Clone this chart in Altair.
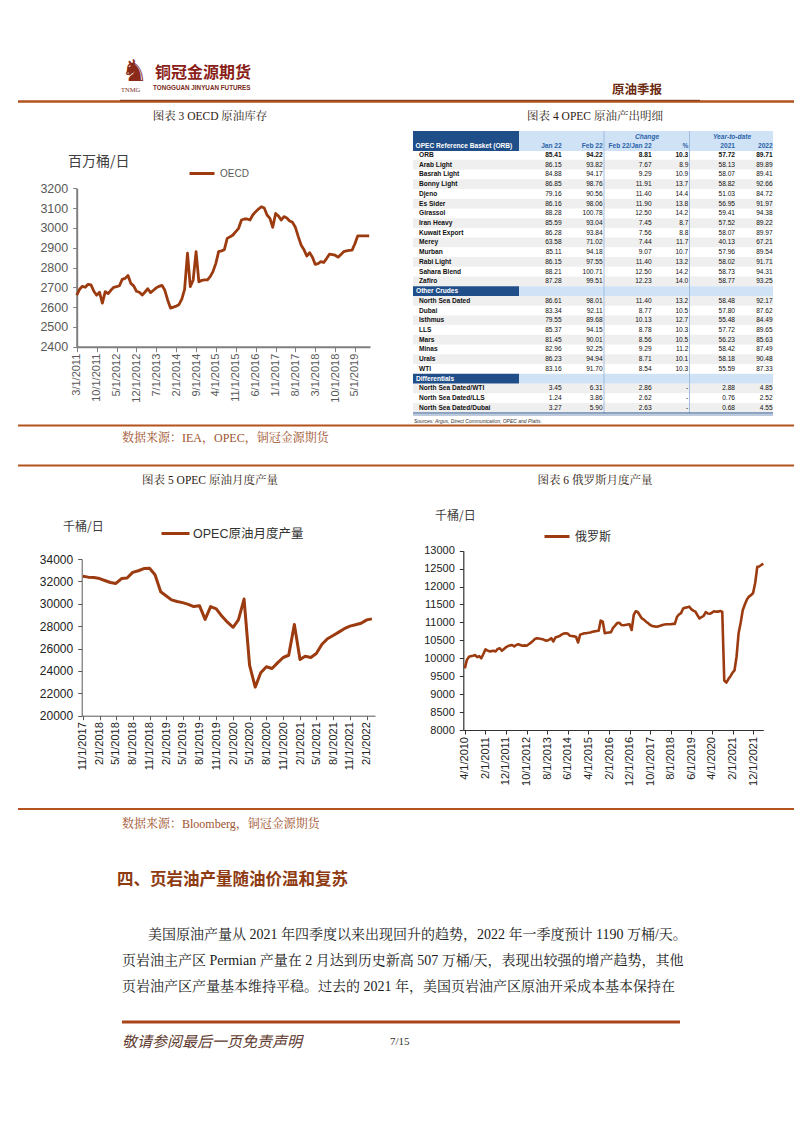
import altair as alt
import pandas as pd

# ====================== chart data ======================
oecd_start = "2011-03-01"
oecd_values = [
    2661, 2690, 2705, 2700, 2715, 2712, 2680, 2660, 2675, 2620,
    2678, 2668, 2685, 2700, 2703, 2708, 2740, 2745, 2760, 2720, 2707, 2680,
    2675, 2661, 2675, 2693, 2673, 2685, 2697, 2705, 2710, 2685, 2635, 2595,
    2600, 2605, 2612, 2640, 2690, 2872, 2703, 2737, 2880, 2728, 2735, 2738,
    2737, 2755, 2779, 2821, 2880, 2884, 2890, 2947, 2955, 2964, 2981, 2998,
    3040, 3045, 3045, 3040, 3065, 3082, 3095, 3107, 3100, 3065, 3048, 3003,
    3073, 3060, 3040, 3057, 3050, 3035, 3028, 3003, 2956, 2914, 2890, 2858,
    2875, 2851, 2816, 2820, 2830, 2825, 2845, 2867, 2865, 2862, 2852, 2865,
    2880, 2884, 2886, 2888, 2920, 2960, 2960, 2960, 2960, 2960,
]
oecd_ticks = [(2011, 3), (2011, 10), (2012, 5), (2012, 12), (2013, 7), (2014, 2), (2014, 9),
              (2015, 4), (2015, 11), (2016, 6), (2017, 1), (2017, 8), (2018, 3), (2018, 10), (2019, 5)]
oecd_yticks = [2400, 2500, 2600, 2700, 2800, 2900, 3000, 3100, 3200]

opec_start = "2017-11-01"
opec_values = [
    32450, 32380, 32340, 32250, 32080, 31900, 31820, 32250, 32300, 32800, 32950, 33150,
    33170, 32600, 31080, 30700, 30350, 30200, 30100, 29950, 29750, 29830, 28600, 29750,
    29550, 28900, 28350, 27900, 28560, 30420, 24520, 22550, 23840, 24370, 24220, 24720,
    25200, 25400, 28150, 25020, 25310, 25200, 25550, 26380, 26880, 27170, 27470, 27770,
    28000, 28120, 28260, 28560, 28650,
]
opec_ticks = [(2017, 11), (2018, 2), (2018, 5), (2018, 8), (2018, 11), (2019, 2), (2019, 5), (2019, 8),
              (2019, 11), (2020, 2), (2020, 5), (2020, 8), (2020, 11), (2021, 2), (2021, 5), (2021, 8),
              (2021, 11), (2022, 2)]
opec_yticks = [20000, 22000, 24000, 26000, 28000, 30000, 32000, 34000]

russia_start = "2010-04-01"
russia_values = [
    9720, 9950, 10040, 10060, 10070, 10090, 10030, 10060, 10000, 10120,
    10250, 10220, 10190, 10200, 10210, 10190, 10260, 10280, 10210, 10260,
    10310, 10340, 10360, 10370, 10330, 10370, 10390, 10370, 10350, 10360,
    10350, 10390, 10430, 10480, 10540, 10560, 10550, 10540, 10530, 10500,
    10490, 10520, 10560, 10470, 10580, 10600, 10620, 10660, 10690, 10700,
    10690, 10630, 10620, 10610, 10600, 10440, 10660, 10680, 10700, 10700,
    10710, 10720, 10740, 10750, 10760, 10770, 11050, 11020, 10700, 10710,
    10720, 10730, 10850, 10910, 10980, 10990, 10930, 10920, 10930, 10940,
    10950, 10790, 11210, 11310, 11290, 11200, 11110, 11080, 11020, 10980,
    10930, 10900, 10890, 10880, 10890, 10910, 10930, 10940, 10950, 10950,
    10950, 10960, 10960, 11150, 11220, 11260, 11390, 11410, 11420, 11440,
    11370, 11330, 11300, 11200, 11110, 11150, 11180, 11290, 11250, 11240,
    11270, 11310, 11300, 11300, 11320, 11300, 9380, 9320, 9420, 9500,
    9600, 9660, 10050, 10700, 11000, 11340, 11500, 11640, 11720, 11760,
    11820, 12100, 12550, 12560, 12600, 12640,
]
russia_ticks = [(2010, 4), (2011, 2), (2011, 12), (2012, 10), (2013, 8), (2014, 6), (2015, 4), (2016, 2),
                (2016, 12), (2017, 10), (2018, 8), (2019, 6), (2020, 4), (2021, 2), (2021, 12)]
russia_yticks = [8000, 8500, 9000, 9500, 10000, 10500, 11000, 11500, 12000, 12500, 13000]

# ---- OPEC basket table ----
table_names = ["ORB", "Arab Light", "Basrah Light", "Bonny Light", "Djeno", "Es Sider", "Girassol",
               "Iran Heavy", "Kuwait Export", "Merey", "Murban", "Rabi Light", "Sahara Blend", "Zafiro",
               "Other Crudes", "North Sea Dated", "Dubai", "Isthmus", "LLS", "Mars", "Minas", "Urals", "WTI",
               "Differentials", "North Sea Dated/WTI", "North Sea Dated/LLS", "North Sea Dated/Dubai"]
table_kind = ["orb"] + ["crude"] * 13 + ["section"] + ["crude"] * 8 + ["section"] + ["diff"] * 3
table_jan = [85.41, 86.15, 84.88, 86.85, 79.16, 86.16, 88.28, 85.59, 86.28, 63.58, 85.11, 86.15, 88.21, 87.28,
             None, 86.61, 83.34, 79.55, 85.37, 81.45, 82.96, 86.23, 83.16, None, 3.45, 1.24, 3.27]
table_feb = [94.22, 93.82, 94.17, 98.76, 90.56, 98.06, 100.78, 93.04, 93.84, 71.02, 94.18, 97.55, 100.71, 99.51,
             None, 98.01, 92.11, 89.68, 94.15, 90.01, 92.25, 94.94, 91.70, None, 6.31, 3.86, 5.90]
table_chg = [8.81, 7.67, 9.29, 11.91, 11.40, 11.90, 12.50, 7.45, 7.56, 7.44, 9.07, 11.40, 12.50, 12.23,
             None, 11.40, 8.77, 10.13, 8.78, 8.56, 9.29, 8.71, 8.54, None, 2.86, 2.62, 2.63]
table_pct = [10.3, 8.9, 10.9, 13.7, 14.4, 13.8, 14.2, 8.7, 8.8, 11.7, 10.7, 13.2, 14.2, 14.0,
             None, 13.2, 10.5, 12.7, 10.3, 10.5, 11.2, 10.1, 10.3, None, None, None, None]
table_y21 = [57.72, 58.13, 58.07, 58.82, 51.03, 56.95, 59.41, 57.52, 58.07, 40.13, 57.96, 58.02, 58.73, 58.77,
             None, 58.48, 57.80, 55.48, 57.72, 56.23, 58.42, 58.18, 55.59, None, 2.88, 0.76, 0.68]
table_y22 = [89.71, 89.89, 89.41, 92.66, 84.72, 91.97, 94.38, 89.22, 89.97, 67.21, 89.54, 91.71, 94.31, 93.25,
             None, 92.17, 87.62, 84.49, 89.65, 85.63, 87.49, 90.48, 87.33, None, 4.85, 2.52, 4.55]

para_lines = [
    "美国原油产量从 2021 年四季度以来出现回升的趋势，2022 年一季度预计 1190 万桶/天。",
    "页岩油主产区 Permian 产量在 2 月达到历史新高 507 万桶/天，表现出较强的增产趋势，其他",
    "页岩油产区产量基本维持平稳。过去的  2021  年，美国页岩油产区原油开采成本基本保持在",
]

# ====================== page layout / styles ======================
OFF = 8
W, H = 786, 1118
SANS = "Liberation Sans, Noto Sans CJK SC, sans-serif"
SERIF = "Liberation Serif, Noto Serif CJK SC, Noto Sans CJK SC, serif"
CJK = "Noto Sans CJK SC, sans-serif"
LINE = "#9C3B10"
RULE = "#B4531D"
SRC = "#A0522D"
DARKBLUE = "#1F4E89"
LIGHTBLUE = "#CFE2F6"
HEADBLUE = "#2C64A8"


def P(v):
    return v - OFF


def D(y, m, d=1):
    return alt.DateTime(year=y, month=m, date=d, utc=True)


def txt(s, x, y, size, color, font, weight="normal", style="normal", align="left"):
    return alt.Chart(pd.DataFrame({"t": [s]})).mark_text(
        align=align, baseline="middle", font=font, fontSize=size, fontWeight=weight,
        fontStyle=style, color=color
    ).encode(x=alt.value(P(x)), y=alt.value(P(y)), text="t:N")


def hline(x1, x2, y, color, width):
    return alt.Chart(pd.DataFrame({"a": [0]})).mark_rule(color=color, strokeWidth=width).encode(
        x=alt.value(P(x1)), x2=alt.value(P(x2)), y=alt.value(P(y)))


def vline(x, y1, y2, color, width):
    return alt.Chart(pd.DataFrame({"a": [0]})).mark_rule(color=color, strokeWidth=width).encode(
        x=alt.value(P(x)), y=alt.value(P(y1)), y2=alt.value(P(y2)))


def box(x1, y1, x2, y2, color):
    return alt.Chart(pd.DataFrame({"a": [0]})).mark_rect(color=color).encode(
        x=alt.value(P(x1)), x2=alt.value(P(x2)), y=alt.value(P(y1)), y2=alt.value(P(y2)))


def series_df(start, values, name):
    return pd.DataFrame({
        "date": pd.date_range(start, periods=len(values), freq="MS").strftime("%Y-%m-%d"),
        "value": values,
        "series": name,
    })


def line_chart(df, name, xdom, xr, xaxis_y, xticks, ydom, yr, yaxis_x, yticks, xlab, ylab, axcol,
               leg, sw):
    return alt.Chart(df).mark_line(strokeWidth=sw, strokeJoin="round").encode(
        x=alt.X("date:T", title=None,
                scale=alt.Scale(type="utc", domain=xdom, range=[P(xr[0]), P(xr[1])]),
                axis=alt.Axis(orient="bottom", offset=P(xaxis_y) - H,
                              values=[D(y, m) for y, m in xticks], format="%-m/%-d/%Y",
                              labelAngle=-90, labelFont=SANS, labelFontSize=xlab[0], labelColor=xlab[1],
                              labelPadding=xlab[2], tickSize=xlab[3], tickColor=axcol[0], tickWidth=1,
                              domainColor=axcol[0], domainWidth=axcol[1], grid=False,
                              labelFlush=False, labelOverlap=False, labelBound=False)),
        y=alt.Y("value:Q", title=None,
                scale=alt.Scale(domain=ydom, range=[P(yr[0]), P(yr[1])], nice=False, zero=False),
                axis=alt.Axis(orient="left", offset=-P(yaxis_x), values=yticks, format="d",
                              labelFont=SANS, labelFontSize=ylab[0], labelColor=ylab[1],
                              labelPadding=ylab[2], tickSize=ylab[3], tickColor=axcol[0], tickWidth=1,
                              domainColor=axcol[0], domainWidth=axcol[1], grid=False,
                              labelOverlap=False, labelFlush=False)),
        color=alt.Color("series:N", scale=alt.Scale(domain=[name], range=[LINE]),
                        legend=alt.Legend(orient="none", legendX=P(leg[0]), legendY=P(leg[1]) - leg[2] / 2,
                                          title=None, symbolType="stroke", symbolSize=leg[2] ** 2,
                                          symbolStrokeWidth=3, labelFont=leg[3], labelFontSize=leg[4],
                                          labelColor=leg[5], labelOffset=leg[6])),
    )


layers = []

# ---------------- page header ----------------
layers += [
    hline(18, 795, 101.5, RULE, 2.5),
    hline(120, 700, 100.3, "#7A3518", 1),
    txt("♞", 121, 72, 30, "#8A2A1A", "DejaVu Sans"),
    txt("铜冠金源期货", 155, 73, 16, "#8A1F1A", CJK, weight="bold"),
    txt("TONGGUAN JINYUAN FUTURES", 153, 87.5, 6.3, "#7A2A1A", SANS, weight="bold"),
    txt("TNMG", 121, 90, 6.5, "#7A2A1A", SERIF),
    txt("原油季报", 612, 90, 12.5, "#6B2A10", CJK, weight="bold"),
    txt("图表 3 OECD 原油库存", 210, 117, 11.5, "#2E1A10", SERIF, align="center"),
    txt("图表 4 OPEC 原油产出明细", 595, 117, 11.5, "#2E1A10", SERIF, align="center"),
    txt("百万桶/日", 68, 162, 14, "#404040", CJK),
    hline(18, 795, 425.5, RULE, 2),
    txt("数据来源：IEA，OPEC，铜冠金源期货", 122, 438, 12, SRC, SERIF),
    hline(18, 795, 465.5, RULE, 2),
    txt("图表 5 OPEC 原油月度产量", 210, 481, 11.5, "#2E1A10", SERIF, align="center"),
    txt("图表 6 俄罗斯月度产量", 595, 481, 11.5, "#2E1A10", SERIF, align="center"),
    txt("千桶/日", 63, 527, 12, "#404040", CJK),
    txt("千桶/日", 435, 516, 12, "#404040", CJK),
    hline(18, 795, 809, RULE, 2),
    txt("数据来源：Bloomberg，铜冠金源期货", 122, 824, 12, SRC, SERIF),
    txt("四、页岩油产量随油价温和复苏", 117, 880, 16.5, "#8E3B12", CJK, weight="bold"),
    txt(para_lines[0], 148, 935, 14, "#1A1A1A", SERIF),
    txt(para_lines[1], 122, 961, 14, "#1A1A1A", SERIF),
    txt(para_lines[2], 122, 987, 14, "#1A1A1A", SERIF),
    hline(122, 680, 1022, "#A8441A", 3),
    txt("敬请参阅最后一页免责声明", 122, 1042, 15, "#5E3A2E", CJK, style="italic"),
    txt("7/15", 390, 1042, 11, "#333333", SERIF),
]

# ---------------- line charts ----------------
oecd = line_chart(series_df(oecd_start, oecd_values, "OECD"), "OECD",
                  [D(2011, 3, 1), D(2019, 10, 10)], (76.7, 370), 346.7, oecd_ticks,
                  [2400, 3200], (346.7, 188.3), 76.7, oecd_yticks,
                  (11, "#595959", 1.5, 5), (12.5, "#595959", 5, 4), ("#7F7F7F", 2),
                  (188, 172, 25, SANS, 10, "#595959", 4), 2.8)
opec = line_chart(series_df(opec_start, opec_values, "OPEC原油月度产量"), "OPEC原油月度产量",
                  [D(2017, 10, 26), D(2022, 3, 18)], (81.7, 375), 715.7, opec_ticks,
                  [20000, 34000], (715.7, 559), 81.7, opec_yticks,
                  (11, "#222222", 2, 4), (12, "#222222", 5, 4), ("#595959", 1),
                  (160, 532, 28, SANS, 12.5, "#333333", 2), 3)
russia = line_chart(series_df(russia_start, russia_values, "俄罗斯"), "俄罗斯",
                    [D(2010, 3, 10), D(2022, 5, 1)], (463.3, 763.3), 730, russia_ticks,
                    [8000, 13000], (730, 550.7), 463.3, russia_yticks,
                    (11, "#222222", 2.5, 4), (11, "#222222", 5, 4), ("#333333", 1.2),
                    (543, 535, 25, SANS, 12, "#333333", 4), 2.6)
layers += [oecd, opec, russia]

# ---------------- OPEC basket table ----------------
tbl = pd.DataFrame({"row": table_names, "kind": table_kind, "jan": table_jan, "feb": table_feb,
                    "chg": table_chg, "pct": table_pct, "y21": table_y21, "y22": table_y22})
grp = (tbl["kind"] == "section").cumsum()
tbl["stripe"] = tbl.groupby(grp).cumcount().mod(2)
tbl.loc[tbl["kind"] == "section", "stripe"] = 0

row_y = alt.Y("row:N", title=None, axis=None,
              scale=alt.Scale(type="band", domain=table_names, range=[P(150.1), P(412.6)],
                              paddingInner=0, paddingOuter=0))
base = alt.Chart(tbl)
TF = "Liberation Sans, Arial, sans-serif"
FS = 6.6
tlayers = [
    base.transform_filter("datum.stripe == 1").mark_rect(color="#EFEFEF").encode(
        x=alt.value(P(413)), x2=alt.value(P(773)), y=row_y),
    base.transform_filter("datum.kind == 'section'").mark_rect(color=DARKBLUE).encode(
        x=alt.value(P(413)), x2=alt.value(P(519)), y=row_y),
    base.transform_filter("datum.kind == 'section'").mark_rect(color=LIGHTBLUE).encode(
        x=alt.value(P(519)), x2=alt.value(P(773)), y=row_y),
    base.transform_filter("datum.kind == 'section'").mark_text(
        align="left", baseline="middle", font=TF, fontSize=FS, fontWeight="bold", color="white").encode(
        x=alt.value(P(416)), y=row_y, text="row:N"),
    base.transform_filter("datum.kind != 'section'").mark_text(
        align="left", baseline="middle", font=TF, fontSize=FS, fontWeight="bold", color="#111111").encode(
        x=alt.value(P(419)), y=row_y, text="row:N"),
]
table_cols = [("jan", 561.7, ".2f"), ("feb", 602.7, ".2f"), ("chg", 651.7, ".2f"),
              ("pct", 688.3, ".1f"), ("y21", 735, ".2f"), ("y22", 772.7, ".2f")]
for col, xr, fmt in table_cols:
    expr = f"datum.{col} == null ? '-' : format(datum.{col}, '{fmt}')"
    for cond, wt in (("datum.kind == 'orb'", "bold"), ("datum.kind == 'crude' || datum.kind == 'diff'", "normal")):
        tlayers.append(
            base.transform_filter(cond).transform_calculate(lbl=expr).mark_text(
                align="right", baseline="middle", font=TF, fontSize=FS, fontWeight=wt, color="#111111"
            ).encode(x=alt.value(P(xr)), y=row_y, text="lbl:N"))
layers.append(alt.layer(*tlayers))

# table header / frame
layers += [
    box(413, 131, 519, 151, DARKBLUE),
    box(519, 131, 773, 151, LIGHTBLUE),
    txt("OPEC Reference Basket (ORB)", 415.5, 146, FS, "white", TF, weight="bold"),
    txt("Change", 647, 136.5, FS, HEADBLUE, TF, weight="bold", style="italic", align="center"),
    txt("Year-to-date", 732, 136.5, FS, HEADBLUE, TF, weight="bold", style="italic", align="center"),
    txt("Jan 22", 561.7, 146, FS, HEADBLUE, TF, weight="bold", align="right"),
    txt("Feb 22", 602.7, 146, FS, HEADBLUE, TF, weight="bold", align="right"),
    txt("Feb 22/Jan 22", 651.7, 146, FS, HEADBLUE, TF, weight="bold", align="right"),
    txt("%", 688.3, 146, FS, HEADBLUE, TF, weight="bold", align="right"),
    txt("2021", 735, 146, FS, HEADBLUE, TF, weight="bold", align="right"),
    txt("2022", 772.7, 146, FS, HEADBLUE, TF, weight="bold", align="right"),
    vline(604, 131, 413, "#9CB8DC", 0.9),
    vline(689.5, 131, 413, "#9CB8DC", 0.9),
    hline(413, 773, 413, DARKBLUE, 1.2),
    hline(413, 773, 415, DARKBLUE, 0.6),
    txt("Sources:  Argus, Direct Communication, OPEC and Platts.", 414, 420.5, 5, "#333333", TF, style="italic"),
]

chart = alt.layer(*layers).resolve_scale(
    x="independent", y="independent", color="independent"
).resolve_axis(x="independent", y="independent").resolve_legend(color="independent").properties(
    width=W, height=H, padding=0, autosize=alt.AutoSizeParams(type="none")
).configure_view(stroke=None)

chart.save("out.html", embed_options={"renderer": "svg", "actions": False})
